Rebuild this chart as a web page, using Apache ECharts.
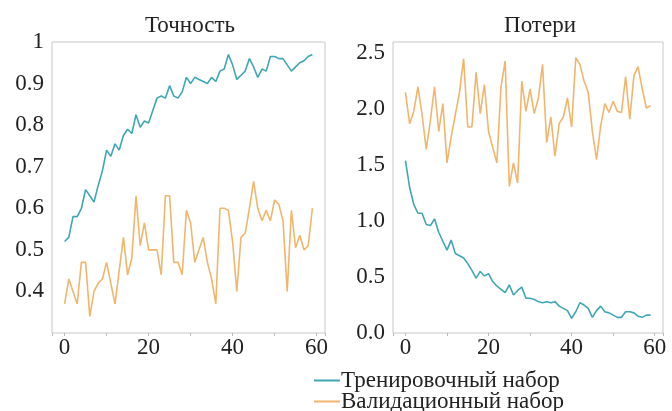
<!DOCTYPE html>
<html>
<head>
<meta charset="utf-8">
<script src="https://cdn.jsdelivr.net/npm/echarts@6/dist/echarts.min.js"></script>
<style>
  html, body { margin: 0; padding: 0; background: #fff; }
  #chart { width: 672px; height: 411px; }
</style>
</head>
<body>
<div id="chart"></div>
<script>
// epochs 0..59
var epochs = [];
for (var i = 0; i < 60; i++) epochs.push(i);

var trainAcc = [0.52, 0.53, 0.58, 0.58, 0.60, 0.645, 0.63, 0.615, 0.655, 0.69,
  0.74, 0.725, 0.755, 0.74, 0.775, 0.79, 0.78, 0.825, 0.795, 0.81,
  0.805, 0.835, 0.865, 0.87, 0.865, 0.895, 0.87, 0.865, 0.88, 0.915,
  0.90, 0.915, 0.91, 0.905, 0.90, 0.915, 0.905, 0.93, 0.935, 0.97,
  0.945, 0.91, 0.92, 0.93, 0.96, 0.94, 0.915, 0.935, 0.93, 0.965,
  0.965, 0.96, 0.96, 0.945, 0.93, 0.94, 0.95, 0.955, 0.965, 0.97];

var valAcc = [0.37, 0.43, 0.40, 0.37, 0.47, 0.47, 0.34, 0.40, 0.42, 0.43,
  0.47, 0.42, 0.37, 0.45, 0.53, 0.44, 0.48, 0.63, 0.51, 0.565,
  0.50, 0.50, 0.50, 0.44, 0.63, 0.63, 0.47, 0.47, 0.44, 0.595,
  0.565, 0.47, 0.50, 0.53, 0.47, 0.43, 0.37, 0.60, 0.60, 0.595,
  0.52, 0.40, 0.53, 0.54, 0.60, 0.665, 0.60, 0.57, 0.595, 0.57,
  0.62, 0.61, 0.57, 0.40, 0.595, 0.505, 0.535, 0.50, 0.51, 0.60];

var trainLoss = [1.54, 1.30, 1.15, 1.07, 1.07, 0.97, 0.96, 1.02, 0.90, 0.82,
  0.74, 0.83, 0.71, 0.69, 0.67, 0.62, 0.56, 0.49, 0.55, 0.51,
  0.53, 0.46, 0.42, 0.39, 0.36, 0.43, 0.34, 0.38, 0.41, 0.31,
  0.31, 0.30, 0.28, 0.27, 0.28, 0.27, 0.28, 0.24, 0.22, 0.20,
  0.13, 0.19, 0.27, 0.25, 0.22, 0.14, 0.20, 0.24, 0.19, 0.18,
  0.16, 0.14, 0.14, 0.19, 0.19, 0.18, 0.15, 0.14, 0.16, 0.16];

var valLoss = [2.15, 1.87, 1.98, 2.20, 1.95, 1.64, 1.90, 2.20, 1.80, 2.05,
  1.52, 1.75, 1.95, 2.15, 2.45, 1.84, 1.84, 2.33, 1.96, 2.22,
  1.80, 1.66, 1.52, 2.20, 2.43, 1.31, 1.52, 1.34, 2.25, 1.98,
  2.18, 1.96, 2.10, 2.40, 1.70, 1.93, 1.58, 1.87, 1.93, 2.10,
  1.84, 2.46, 2.40, 2.25, 2.15, 1.80, 1.55, 1.85, 2.05, 1.97,
  2.07, 1.98, 1.97, 2.29, 1.91, 2.30, 2.38, 2.18, 2.01, 2.03];

var titles = ['Точность', 'Потери'];
var seriesNames = ['Тренировочный набор', 'Валидационный набор'];

var trainColor = '#3fa6b4';
var valColor = '#f2b56c';
var font = 'Liberation Serif';
var textColor = '#222';

function pairs(ys) {
  return ys.map(function (y, i) { return [epochs[i], y]; });
}

function xAxisFor(idx) {
  return {
    type: 'value', gridIndex: idx, min: -3, max: 62, splitNumber: 6,
    axisLine: { show: false },
    axisTick: { show: true, inside: false, length: 3, lineStyle: { color: '#bbb' } },
    splitLine: { show: false },
    axisLabel: {
      fontFamily: font, fontSize: 23, color: textColor, margin: 3,
      formatter: function (v) { return v % 20 === 0 ? String(v) : ''; }
    }
  };
}

function legendFor(name, top) {
  return {
    data: [name],
    orient: 'vertical',
    left: 309, top: top,
    itemWidth: 26, itemHeight: 2,
    icon: 'rect',
    textStyle: { fontFamily: font, fontSize: 23, color: textColor, padding: [0, 0, 0, -4] }
  };
}

var chart = echarts.init(document.getElementById('chart'));
chart.setOption({
  backgroundColor: '#fff',
  animation: false,
  title: [
    { text: titles[0], left: 185, top: 9, textAlign: 'center',
      textStyle: { fontFamily: font, fontSize: 23, fontWeight: 'normal', color: textColor } },
    { text: titles[1], left: 535, top: 9, textAlign: 'center',
      textStyle: { fontFamily: font, fontSize: 23, fontWeight: 'normal', color: textColor } }
  ],
  legend: [legendFor(seriesNames[0], 364), legendFor(seriesNames[1], 385)],
  grid: [
    { left: 52, top: 42, width: 273, height: 291, show: true, borderColor: '#c8c8c8', borderWidth: 1 },
    { left: 393, top: 42, width: 270, height: 291, show: true, borderColor: '#c8c8c8', borderWidth: 1 }
  ],
  xAxis: [xAxisFor(0), xAxisFor(1)],
  yAxis: [
    {
      type: 'value', gridIndex: 0, min: 0.3, max: 1, interval: 0.1,
      axisLine: { show: false },
      axisTick: { show: false },
      splitLine: { show: false },
      axisLabel: { fontFamily: font, fontSize: 23, color: textColor, margin: 8, showMinLabel: false,
        formatter: function (v) { return String(Math.round(v * 10) / 10); } }
    },
    {
      type: 'value', gridIndex: 1, min: 0, max: 2.6, interval: 0.5,
      axisLine: { show: false },
      axisTick: { show: false },
      splitLine: { show: false },
      axisLabel: { fontFamily: font, fontSize: 23, color: textColor, margin: 8, showMaxLabel: false,
        formatter: function (v) { return v.toFixed(1); } }
    }
  ],
  series: [
    { name: seriesNames[0], type: 'line', xAxisIndex: 0, yAxisIndex: 0, data: pairs(trainAcc),
      showSymbol: false, lineStyle: { width: 1.6, color: trainColor }, itemStyle: { color: trainColor } },
    { name: seriesNames[1], type: 'line', xAxisIndex: 0, yAxisIndex: 0, data: pairs(valAcc),
      showSymbol: false, lineStyle: { width: 1.6, color: valColor }, itemStyle: { color: valColor } },
    { name: seriesNames[0], type: 'line', xAxisIndex: 1, yAxisIndex: 1, data: pairs(trainLoss),
      showSymbol: false, lineStyle: { width: 1.6, color: trainColor }, itemStyle: { color: trainColor } },
    { name: seriesNames[1], type: 'line', xAxisIndex: 1, yAxisIndex: 1, data: pairs(valLoss),
      showSymbol: false, lineStyle: { width: 1.6, color: valColor }, itemStyle: { color: valColor } }
  ]
});
</script>
</body>
</html>
